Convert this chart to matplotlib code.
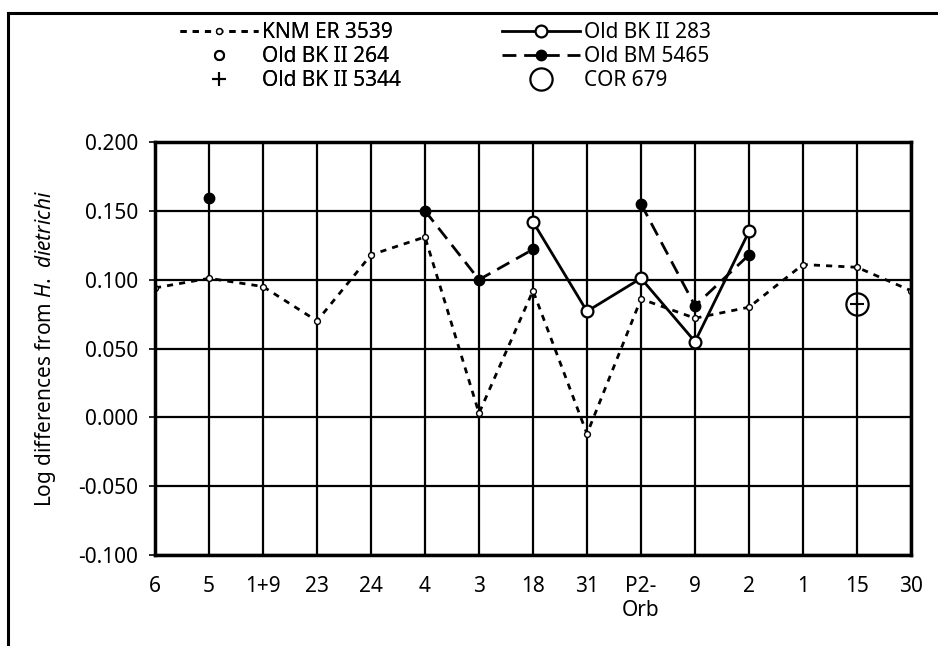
import matplotlib
matplotlib.use("Agg")
import matplotlib.pyplot as plt
import numpy as np
from matplotlib.lines import Line2D

plt.rcParams['font.family'] = ['Noto Sans', 'DejaVu Sans']
plt.rcParams['mathtext.fontset'] = 'custom'
plt.rcParams['mathtext.it'] = 'Noto Sans:italic'
plt.rcParams['mathtext.rm'] = 'Noto Sans'

categories = ["6", "5", "1+9", "23", "24", "4", "3", "18", "31", "P2-\nOrb", "9", "2", "1", "15", "30"]
nan = np.nan
knm_er_3539 = [0.094, 0.101, 0.095, 0.070, 0.118, 0.131, 0.003, 0.092, -0.012, 0.086, 0.072, 0.080, 0.111, 0.109, 0.092]
old_bk_ii_283 = [nan, nan, nan, nan, nan, nan, nan, 0.142, 0.077, 0.101, 0.055, 0.135, nan, nan, nan]
old_bm_5465 = [nan, 0.159, nan, nan, nan, 0.150, 0.100, 0.122, nan, 0.155, 0.081, 0.118, nan, nan, nan]
old_bk_ii_264 = [nan] * 15
old_bk_ii_5344 = [nan, nan, nan, nan, nan, nan, nan, nan, nan, nan, nan, nan, nan, 0.082, nan]
cor_679 = [nan, nan, nan, nan, nan, nan, nan, nan, nan, nan, nan, nan, nan, 0.082, nan]
yticks = [-0.100, -0.050, 0.000, 0.050, 0.100, 0.150, 0.200]

FS = 15
W, H = 938, 646
fig = plt.figure(figsize=(W / 100, H / 100), dpi=100)
ax = fig.add_axes([155 / W, 1 - 555 / H, (911 - 155) / W, (555 - 142) / H])

x = np.arange(len(categories))

# grid
for yv in yticks:
    ax.axhline(yv, color='black', lw=1.6, zorder=1)
for xv in x:
    ax.axvline(xv, color='black', lw=1.6, zorder=1)

h1, = ax.plot(x, knm_er_3539, linestyle=(0, (2.2, 2.2)), color='black', lw=2.0,
              marker='o', ms=4.2, mfc='white', mec='black', mew=1.0, zorder=3,
              label='KNM ER 3539')
h2, = ax.plot(x, old_bk_ii_283, linestyle='-', color='black', lw=2.0,
              marker='o', ms=8.5, mfc='white', mec='black', mew=1.6, zorder=4,
              label='Old BK II 283')
h4, = ax.plot(x, old_bm_5465, linestyle=(0, (5, 2.8)), color='black', lw=2.0,
              marker='o', ms=7.5, mfc='black', mec='black', zorder=4,
              label='Old BM 5465')
h3, = ax.plot(x, old_bk_ii_264, linestyle='none', marker='o', ms=6.5,
              mfc='white', mec='black', mew=1.5, zorder=5, label='Old BK II 264')
h5, = ax.plot(x, old_bk_ii_5344, linestyle='none', marker='+', ms=10,
              mec='black', mew=1.5, zorder=5, label='Old BK II 5344')
h6, = ax.plot(x, cor_679, linestyle='none', marker='o', ms=16,
              mfc='none', mec='black', mew=1.6, zorder=5, label='COR 679')

ax.set_xlim(0, len(categories) - 1)
ax.set_ylim(-0.1, 0.2)
ax.set_yticks(yticks)
ax.set_yticklabels([f"{v:.3f}" for v in yticks])
ax.set_xticks(x)
ax.set_xticklabels(categories)
ax.tick_params(axis='x', length=0, pad=15, labelsize=FS)
ax.tick_params(axis='y', length=4, width=1.2, pad=8, labelsize=FS)
for sp in ax.spines.values():
    sp.set_linewidth(2.5)
    sp.set_zorder(6)

ax.set_ylabel(r"Log differences from $\it{H.\ dietrichi}$", fontsize=FS, labelpad=15)

common = dict(loc='upper left', frameon=False, fontsize=FS, handlelength=3.75,
              handletextpad=0.2, labelspacing=0.15, numpoints=1,
              borderpad=0, borderaxespad=0)
leg1 = fig.legend(handles=[h1, h3, h5], bbox_to_anchor=(180 / W, 1 - 22 / H), **common)
leg2 = fig.legend(handles=[h2, h4, h6], bbox_to_anchor=(502 / W, 1 - 22 / H), **common)
fig.add_artist(leg1)

# outer frame
fig.add_artist(Line2D([8 / W, 1.0], [1 - 13 / H, 1 - 13 / H], color='black', lw=2.2,
                      transform=fig.transFigure))
fig.add_artist(Line2D([8 / W, 8 / W], [0, 1 - 13 / H], color='black', lw=2.2,
                      transform=fig.transFigure))

fig.savefig("out.png", dpi=100)
